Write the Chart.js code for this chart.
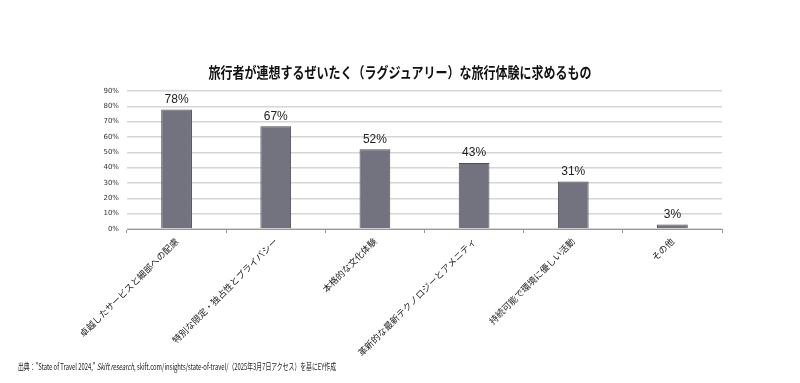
<!DOCTYPE html>
<html lang="ja">
<head>
<meta charset="utf-8">
<script src="https://cdn.jsdelivr.net/npm/chart.js@4"></script>
<style>
  html, body { margin: 0; padding: 0; background: #fff; }
  #wrap { position: relative; width: 800px; height: 383px; }
  #title {
    position: absolute; left: 0; top: 61px; width: 800px; text-align: center;
    font: bold 15px "Noto Sans CJK JP", sans-serif; color: #111;
    transform: scaleX(0.8); transform-origin: 400px 0;
  }
  #source {
    position: absolute; left: 18px; top: 360px;
    font: 9px "Noto Sans CJK JP", sans-serif; color: #222; white-space: nowrap;
    transform: scaleX(0.65); transform-origin: 0 0;
  }
</style>
</head>
<body>
<div id="wrap">
  <canvas id="chart" width="800" height="383"></canvas>
  <div id="title">旅行者が連想するぜいたく（ラグジュアリー）な旅行体験に求めるもの</div>
  <div id="source">出典："State of Travel 2024," <i>Skift research</i>, skift.com/insights/state-of-travel/（2025年3月7日アクセス）を基にEY作成</div>
</div>
<script>
  "use strict";

  const categories = [
    "卓越したサービスと細部への配慮",
    "特別な限定・独占性とプライバシー",
    "本格的な文化体験",
    "革新的な最新テクノロジーとアメニティ",
    "持続可能で環境に優しい活動",
    "その他"
  ];
  const shares = [78, 67, 52, 43, 31, 3];
  const yTicks = [0, 10, 20, 30, 40, 50, 60, 70, 80, 90];

  const valueLabels = {
    id: "valueLabels",
    afterDatasetsDraw(chart) {
      const ctx = chart.ctx;
      const meta = chart.getDatasetMeta(0);
      ctx.save();
      ctx.font = "12px 'Liberation Sans', sans-serif";
      ctx.fillStyle = "#222";
      ctx.textAlign = "center";
      ctx.textBaseline = "bottom";
      meta.data.forEach(function (bar, i) {
        ctx.fillText(shares[i] + "%", bar.x, bar.y - 4);
      });
      ctx.restore();
    }
  };

  new Chart(document.getElementById("chart"), {
    type: "bar",
    data: {
      labels: categories,
      datasets: [{
        data: shares,
        backgroundColor: "#73737f",
        borderColor: "#4b4b56",
        borderWidth: 1,
        categoryPercentage: 1,
        barPercentage: 0.31
      }]
    },
    options: {
      responsive: false,
      animation: false,
      layout: { padding: { top: 91, right: 78, left: 0, bottom: 0 } },
      plugins: { legend: { display: false }, tooltip: { enabled: false } },
      scales: {
        x: {
          afterFit: function (s) { s.height = 154; },
          grid: { offset: true, drawOnChartArea: false, drawTicks: true, tickLength: 4, color: "#999" },
          border: { color: "#999" },
          ticks: {
            minRotation: 45, maxRotation: 45, autoSkip: false,
            font: { family: "'Noto Sans CJK JP', sans-serif", size: 9 },
            color: "#222"
          }
        },
        y: {
          min: 0, max: 90,
          afterFit: function (s) { s.width = 127; },
          afterBuildTicks: function (s) { s.ticks = yTicks.map(function (v) { return { value: v }; }); },
          border: { display: false },
          grid: { color: "#d6d6d6", lineWidth: 1.5, drawTicks: false },
          ticks: {
            padding: 8,
            font: { family: "'DejaVu Sans', sans-serif", size: 7 },
            color: "#333",
            callback: function (v) { return v + "%"; }
          }
        }
      }
    },
    plugins: [valueLabels]
  });
</script>
</body>
</html>
